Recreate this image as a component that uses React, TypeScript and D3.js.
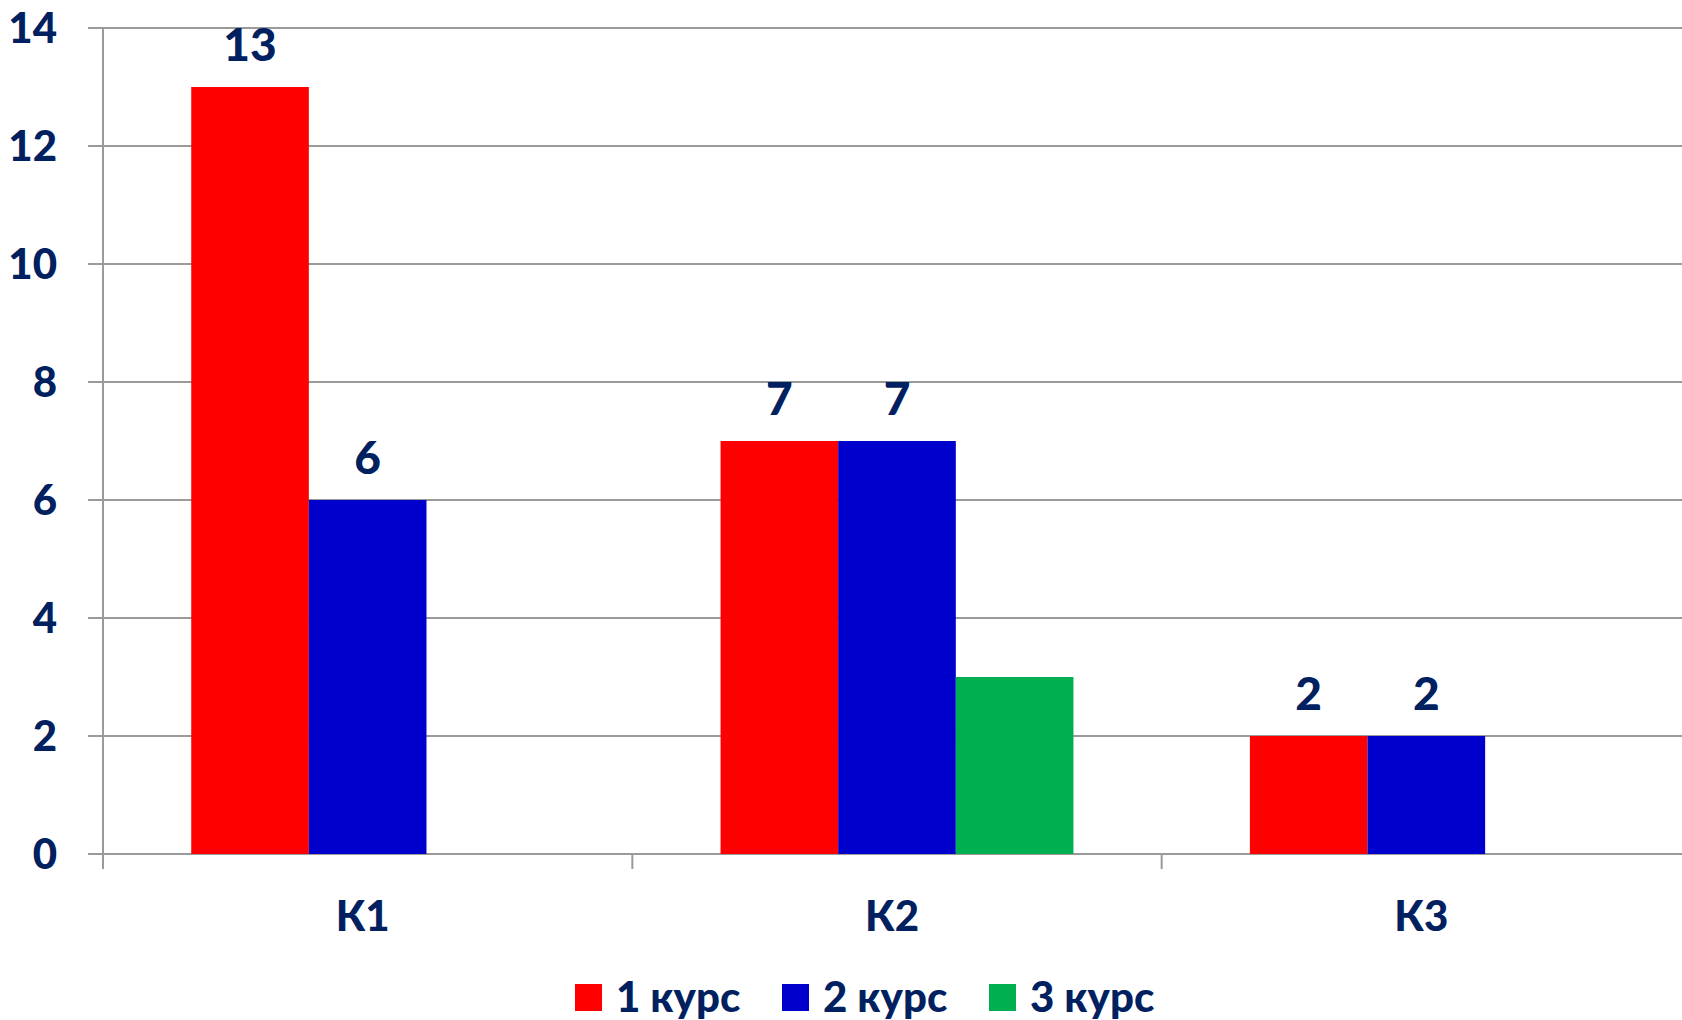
import * as d3 from "d3";

const categories = ["К1", "К2", "К3"];
const seriesNames = ["1 курс", "2 курс", "3 курс"];
const seriesColors = ["#ff0000", "#0000cc", "#00b050"];
// null = no bar for that category
const course1 = [13, 7, 2];
const course2 = [6, 7, 2];
const course3: (number | null)[] = [null, 3, null];
const showLabels = [true, true, false];
const yTicks = [0, 2, 4, 6, 8, 10, 12, 14];

const W = 1682;
const H = 1020;
const left = 103;
const right = 1691;
const top = 28;
const bottom = 854;
const textColor = "#002060";
const gridColor = "#9a9a9a";
const font = "Lato, 'Open Sans', sans-serif";

export default function App() {
  const series = [course1, course2, course3];

  const x = d3
    .scaleBand<string>()
    .domain(categories)
    .range([left, right])
    .paddingInner(1 / 3)
    .paddingOuter(1 / 6);
  const xs = d3
    .scaleBand<number>()
    .domain(d3.range(series.length))
    .range([0, x.bandwidth()]);
  const y = d3.scaleLinear().domain([0, 14]).range([bottom, top]);
  const step = x.step();

  // legend layout
  const legendStart = 575;
  const legendStep = 207;
  const legendY = 984;

  return (
    <svg
      width={W}
      height={H}
      style={{ position: "absolute", left: 0, top: 0, background: "#fff" }}
      fontFamily={font}
      fontWeight={900}
    >
      {/* gridlines + y ticks */}
      {yTicks.map((t) => (
        <g key={t}>
          <line
            x1={left - 15}
            x2={W}
            y1={y(t)}
            y2={y(t)}
            stroke={gridColor}
            strokeWidth={2}
          />
          <text
            x={57}
            y={y(t) + 15}
            textAnchor="end"
            fontSize={42}
            fill={textColor}
          >
            {t}
          </text>
        </g>
      ))}

      {/* y axis */}
      <line x1={left} x2={left} y1={top} y2={bottom + 15} stroke={gridColor} strokeWidth={2} />
      {/* category ticks */}
      {categories.map((c, i) =>
        i === 0 ? null : (
          <line
            key={c}
            x1={left + step * i}
            x2={left + step * i}
            y1={bottom}
            y2={bottom + 15}
            stroke={gridColor}
            strokeWidth={2}
          />
        )
      )}

      {/* bars */}
      {categories.map((c, ci) =>
        series.map((s, si) => {
          const v = s[ci];
          if (v == null) return null;
          const bx = (x(c) ?? 0) + (xs(si) ?? 0);
          const bw = xs.bandwidth();
          return (
            <g key={c + si}>
              <rect
                x={bx}
                y={y(v)}
                width={bw}
                height={y(0) - y(v)}
                fill={seriesColors[si]}
              />
              {showLabels[si] && (
                <text
                  x={bx + bw / 2}
                  y={y(v) - 26}
                  textAnchor="middle"
                  fontSize={46}
                  fill={textColor}
                >
                  {v}
                </text>
              )}
            </g>
          );
        })
      )}

      {/* category labels */}
      {categories.map((c) => (
        <text
          key={c}
          x={(x(c) ?? 0) + x.bandwidth() / 2 - 5}
          y={931}
          textAnchor="middle"
          fontSize={42}
          fill={textColor}
        >
          {c}
        </text>
      ))}

      {/* legend */}
      {seriesNames.map((name, i) => (
        <g key={name} transform={`translate(${legendStart + i * legendStep},${legendY})`}>
          <rect width={27} height={27} fill={seriesColors[i]} />
          <text x={41} y={28} fontSize={42} fill={textColor}>
            {name}
          </text>
        </g>
      ))}
    </svg>
  );
}
